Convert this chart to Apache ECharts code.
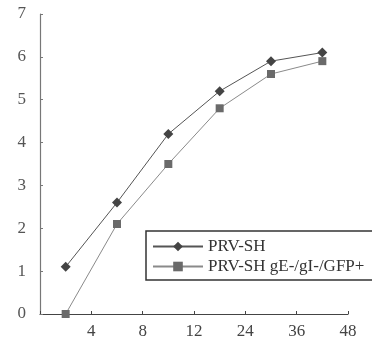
<!DOCTYPE html>
<html>
<head>
<meta charset="utf-8">
<script src="https://cdn.jsdelivr.net/npm/echarts@6/dist/echarts.min.js"></script>
<style>
  html, body { margin: 0; padding: 0; background: #fff; }
  #main { width: 372px; height: 348px; }
</style>
</head>
<body>
<div id="main"></div>
<script>
// tick labels sit on the category boundaries, points in the middle of each slot
var xTickLabels = ['', '4', '8', '12', '24', '36', '48'];
var prvSH = [1.1, 2.6, 4.2, 5.2, 5.9, 6.1];
var prvMutant = [0, 2.1, 3.5, 4.8, 5.6, 5.9];

function toPoints(values) {
  return values.map(function (v, i) { return [i + 0.5, v]; });
}

var chart = echarts.init(document.getElementById('main'));
var serif = 'Liberation Serif';

var option = {
  backgroundColor: '#fff',
  animation: false,
  grid: { left: 40, right: 24, top: 14, bottom: 34 },
  xAxis: {
    type: 'value',
    min: 0,
    max: 6,
    interval: 1,
    axisLine: { show: true, lineStyle: { color: '#444', width: 1.2 } },
    axisTick: { show: true, inside: true, length: 3, lineStyle: { color: '#444' } },
    axisLabel: {
      color: '#444',
      fontFamily: serif,
      fontSize: 17,
      margin: 9,
      formatter: function (v) { return xTickLabels[Math.round(v)] || ''; }
    },
    splitLine: { show: false }
  },
  yAxis: {
    type: 'value',
    min: 0,
    max: 7,
    interval: 1,
    axisLine: { show: true, lineStyle: { color: '#777', width: 1.2 } },
    axisTick: { show: true, inside: true, length: 3, lineStyle: { color: '#777' } },
    axisLabel: { color: '#555', fontFamily: serif, fontSize: 17, margin: 14 },
    splitLine: { show: false }
  },
  legend: {
    orient: 'vertical',
    left: 146,
    top: 231,
    padding: [7, 30, 5, 6],
    itemGap: 3,
    itemWidth: 50,
    itemHeight: 12,
    borderColor: '#333',
    borderWidth: 1.5,
    textStyle: { fontFamily: serif, fontSize: 17, color: '#333' },
    data: ['PRV-SH', 'PRV-SH gE-/gI-/GFP+']
  },
  series: [
    {
      name: 'PRV-SH',
      type: 'line',
      data: toPoints(prvSH),
      symbol: 'diamond',
      symbolSize: 10,
      itemStyle: { color: '#444' },
      lineStyle: { color: '#555', width: 1 }
    },
    {
      name: 'PRV-SH gE-/gI-/GFP+',
      type: 'line',
      data: toPoints(prvMutant),
      symbol: 'rect',
      symbolSize: 8,
      itemStyle: { color: '#6a6a6a' },
      lineStyle: { color: '#8a8a8a', width: 1 }
    }
  ]
};

chart.setOption(option);
</script>
</body>
</html>
